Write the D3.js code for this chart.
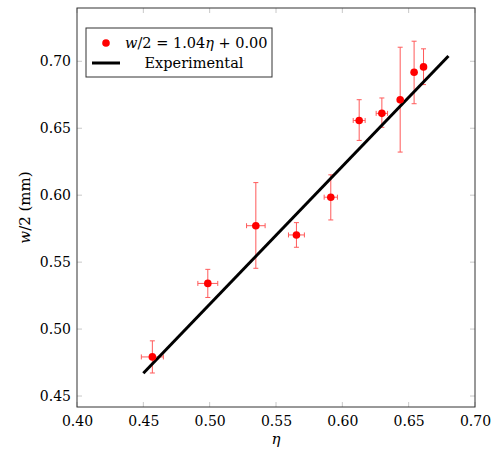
<!DOCTYPE html>
<html>
<head>
<meta charset="utf-8">
<script src="https://cdn.jsdelivr.net/npm/d3@7"></script>
<style>
  body { margin: 0; background: #fff; }
</style>
</head>
<body>
<div id="chart"></div>
<script>
// measurements
const eta    = [0.4568, 0.4986, 0.5348, 0.5654, 0.5913, 0.6127, 0.6298, 0.6436, 0.6541, 0.6612]
const etaErr = [0.0083, 0.0075, 0.0070, 0.0060, 0.0050, 0.0045, 0.0043, 0.0015, 0.0015, 0.0015]
const w      = [0.4792, 0.5341, 0.5772, 0.5703, 0.5985, 0.6558, 0.6611, 0.6713, 0.6918, 0.6958]
const wLow   = [0.4672, 0.5236, 0.5454, 0.5611, 0.5815, 0.6409, 0.6507, 0.6322, 0.6683, 0.6826]
const wHigh  = [0.4912, 0.5446, 0.6094, 0.5795, 0.6152, 0.6713, 0.6726, 0.7105, 0.7150, 0.7093]

// fitted line
const fitEta = [0.45, 0.68]
const fitW   = [0.467, 0.704]

const xTicks = [0.40, 0.45, 0.50, 0.55, 0.60, 0.65, 0.70]
const yTicks = [0.45, 0.50, 0.55, 0.60, 0.65, 0.70]
const legendLabels = ['w/2 = 1.04η + 0.00', 'Experimental']

const FONT = "'DejaVu Serif', 'Liberation Serif', serif"

const dataset = eta.map((e, i) => ({eta: e, etaErr: etaErr[i], w: w[i], lo: wLow[i], hi: wHigh[i]}))
const fitData = fitEta.map((e, i) => ({eta: e, w: fitW[i]}))

let dims = {
  width: 504,
  height: 459,
  margin: {top: 8, right: 29, bottom: 52, left: 77}
}
dims.ctrWidth = dims.width - dims.margin.left - dims.margin.right
dims.ctrHeight = dims.height - dims.margin.top - dims.margin.bottom

const xScale = d3.scaleLinear().domain([0.40, 0.70]).range([0, dims.ctrWidth])
const yScale = d3.scaleLinear().domain([0.4418, 0.7398]).range([dims.ctrHeight, 0])

const svg = d3.select('#chart').append('svg')
  .attr('width', dims.width)
  .attr('height', dims.height)
  .style('font-family', FONT)

const ctr = svg.append('g')
  .attr('transform', `translate(${dims.margin.left}, ${dims.margin.top})`)

// ticks (inside, all four sides)
const tickLen = 5
const xAxisB = d3.axisBottom(xScale).tickValues(xTicks).tickSize(0).tickPadding(9).tickFormat(d3.format('.2f'))
const xAxisG = ctr.append('g').attr('transform', `translate(0, ${dims.ctrHeight})`).call(xAxisB)
xAxisG.select('.domain').remove()
xAxisG.attr('font-family', null).attr('font-size', null)
xAxisG.selectAll('text').style('font-family', FONT).style('font-size', '14px').attr('fill', '#000')

const yAxisL = d3.axisLeft(yScale).tickValues(yTicks).tickSize(0).tickPadding(6).tickFormat(d3.format('.2f'))
const yAxisG = ctr.append('g').call(yAxisL)
yAxisG.select('.domain').remove()
yAxisG.attr('font-family', null).attr('font-size', null)
yAxisG.selectAll('text').style('font-family', FONT).style('font-size', '14px').attr('fill', '#000')

const tickG = ctr.append('g').attr('stroke', '#c8c8c8').attr('stroke-width', 1)
xTicks.forEach(t => {
  tickG.append('line').attr('x1', xScale(t)).attr('x2', xScale(t)).attr('y1', dims.ctrHeight).attr('y2', dims.ctrHeight - tickLen)
  tickG.append('line').attr('x1', xScale(t)).attr('x2', xScale(t)).attr('y1', 0).attr('y2', tickLen)
})
yTicks.forEach(t => {
  tickG.append('line').attr('x1', 0).attr('x2', tickLen).attr('y1', yScale(t)).attr('y2', yScale(t))
  tickG.append('line').attr('x1', dims.ctrWidth).attr('x2', dims.ctrWidth - tickLen).attr('y1', yScale(t)).attr('y2', yScale(t))
})

// error bars
const errColor = '#ff5a5a'
const cap = 2.5
const err = ctr.append('g').attr('stroke', errColor).attr('stroke-width', 1)
dataset.forEach(d => {
  const cx = xScale(d.eta), cy = yScale(d.w)
  const yl = yScale(d.lo), yh = yScale(d.hi)
  const xl = xScale(d.eta - d.etaErr), xh = xScale(d.eta + d.etaErr)
  err.append('line').attr('x1', cx).attr('x2', cx).attr('y1', yl).attr('y2', yh)
  err.append('line').attr('x1', cx - cap).attr('x2', cx + cap).attr('y1', yl).attr('y2', yl)
  err.append('line').attr('x1', cx - cap).attr('x2', cx + cap).attr('y1', yh).attr('y2', yh)
  err.append('line').attr('x1', xl).attr('x2', xh).attr('y1', cy).attr('y2', cy)
  err.append('line').attr('x1', xl).attr('x2', xl).attr('y1', cy - cap).attr('y2', cy + cap)
  err.append('line').attr('x1', xh).attr('x2', xh).attr('y1', cy - cap).attr('y2', cy + cap)
})

// fit line
const line = d3.line().x(d => xScale(d.eta)).y(d => yScale(d.w))
ctr.append('path')
  .datum(fitData)
  .attr('d', line)
  .attr('fill', 'none')
  .attr('stroke', '#000')
  .attr('stroke-width', 3)

// points
ctr.selectAll('circle.pt')
  .data(dataset)
  .join('circle')
  .attr('class', 'pt')
  .attr('cx', d => xScale(d.eta))
  .attr('cy', d => yScale(d.w))
  .attr('r', 3.8)
  .attr('fill', '#ff0000')

// frame
ctr.append('rect')
  .attr('width', dims.ctrWidth)
  .attr('height', dims.ctrHeight)
  .attr('fill', 'none')
  .attr('stroke', '#333')
  .attr('stroke-width', 1)

// legend
const leg = ctr.append('g').attr('transform', 'translate(9, 20)')
leg.append('rect')
  .attr('width', 186).attr('height', 49)
  .attr('fill', '#fff').attr('stroke', '#333').attr('stroke-width', 1)
leg.append('circle').attr('cx', 20).attr('cy', 15).attr('r', 3.8).attr('fill', '#ff0000')
const t1 = leg.append('text').attr('x', 39).attr('y', 20).style('font-size', '14.5px')
t1.append('tspan').attr('font-style', 'italic').text('w')
t1.append('tspan').text('/2 = 1.04')
t1.append('tspan').attr('font-style', 'italic').text('η')
t1.append('tspan').text(' + 0.00')
leg.append('line').attr('x1', 6).attr('x2', 34).attr('y1', 35).attr('y2', 35)
  .attr('stroke', '#000').attr('stroke-width', 3)
leg.append('text').attr('x', 108).attr('y', 40).style('font-size', '14.5px')
  .attr('text-anchor', 'middle').text(legendLabels[1])

// axis labels
svg.append('text')
  .attr('x', dims.margin.left + dims.ctrWidth / 2)
  .attr('y', 444)
  .style('font-size', '15px')
  .attr('text-anchor', 'middle')
  .attr('font-style', 'italic')
  .text('η')

const yl = svg.append('text')
  .attr('transform', `translate(30, ${dims.margin.top + dims.ctrHeight / 2}) rotate(-90)`)
  .style('font-size', '15px')
  .attr('text-anchor', 'middle')
yl.append('tspan').attr('font-style', 'italic').text('w')
yl.append('tspan').text('/2 (mm)')
</script>
</body>
</html>
